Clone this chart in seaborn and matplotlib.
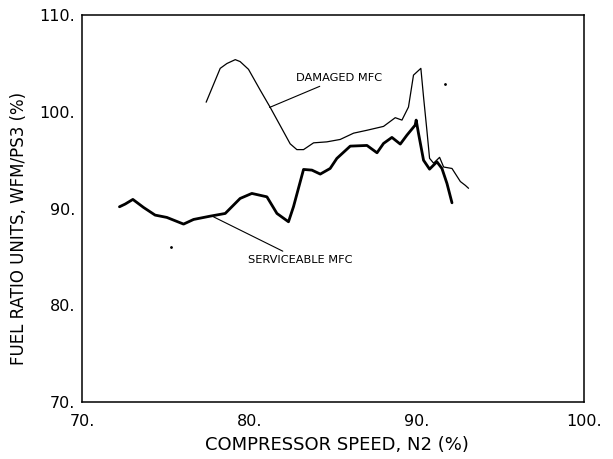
import matplotlib
matplotlib.use("Agg")
import matplotlib.pyplot as plt
import seaborn as sns
import pandas as pd

# Damaged MFC (thin line)
dam_x = [77.41, 78.25, 78.65, 79.15, 79.44, 79.94, 80.64, 81.24, 81.83, 82.43, 82.83, 83.23,
         83.83, 84.62, 85.42, 86.22, 87.02, 88.01, 88.71, 89.11, 89.50, 89.80, 90.24, 90.40,
         90.60, 90.76, 91.00, 91.36, 91.60, 92.10, 92.60, 92.90, 93.09]
dam_y = [101.0, 104.5, 105.0, 105.4, 105.2, 104.4, 102.25, 100.46, 98.6, 96.7, 96.1, 96.1,
         96.8, 96.9, 97.15, 97.8, 98.1, 98.5, 99.4, 99.15, 100.5, 103.8, 104.5, 101.55,
         98.1, 95.2, 94.7, 95.3, 94.3, 94.15, 92.8, 92.4, 92.1]

# Serviceable MFC (thick line)
srv_x = [72.23, 72.57, 73.03, 73.67, 74.36, 75.06, 76.06, 76.66, 77.65, 78.55, 79.44, 80.14,
         81.04, 81.64, 82.33, 82.63, 83.23, 83.73, 84.23, 84.82, 85.22, 86.02, 87.02, 87.62,
         88.01, 88.51, 89.01, 89.41, 89.90, 89.96, 90.10, 90.40, 90.76, 91.20, 91.50, 91.80, 92.10]
srv_y = [90.19, 90.47, 90.95, 90.12, 89.33, 89.09, 88.40, 88.88, 89.22, 89.50, 91.05, 91.57,
         91.22, 89.5, 88.64, 90.2, 94.05, 93.98, 93.57, 94.15, 95.19, 96.46, 96.53, 95.77,
         96.74, 97.36, 96.67, 97.6, 98.63, 99.15, 97.77, 95.0, 94.08, 94.84, 94.15, 92.6, 90.6]

x_ticks = [70, 80, 90, 100]
y_ticks = [70, 80, 90, 100, 110]
x_tick_labels = ["70.", "80.", "90.", "100."]
y_tick_labels = ["70.", "80.", "90.", "100.", "110."]

dam = pd.DataFrame({"x": dam_x, "y": dam_y})
srv = pd.DataFrame({"x": srv_x, "y": srv_y})

sns.set_style("white")
plt.rcParams['font.family'] = ['DejaVu Sans']

fig = plt.figure(figsize=(6.13, 4.59), dpi=100)
ax = fig.add_axes([0.134, 0.124, 0.819, 0.843])

sns.lineplot(data=dam, x="x", y="y", ax=ax, color="black", linewidth=0.9, sort=False)
sns.lineplot(data=srv, x="x", y="y", ax=ax, color="black", linewidth=2.0, sort=False)

# stray specks in the scan
ax.plot([75.3, 91.7], [86.05, 102.9], "k.", markersize=2)

ax.set_xlim(70, 100)
ax.set_ylim(70, 110)
ax.set_xticks(x_ticks)
ax.set_xticklabels(x_tick_labels)
ax.set_yticks(y_ticks)
ax.set_yticklabels(y_tick_labels)
ax.tick_params(direction="in", length=7, width=1, labelsize=11.5, colors="black")
ax.tick_params(axis="x", pad=8.5)
ax.tick_params(axis="y", pad=5)
for s in ax.spines.values():
    s.set_color("black")
    s.set_linewidth(1.1)

ax.set_xlabel("COMPRESSOR SPEED, N2 (%)", fontsize=13, color="black", va="top")
ax.set_ylabel("FUEL RATIO UNITS, WFM/PS3 (%)", fontsize=12, color="black")
ax.xaxis.set_label_coords(0.507, -0.088)
ax.yaxis.set_label_coords(-0.107, 0.45)

ax.annotate("DAMAGED MFC", xy=(81.2, 100.46), xytext=(82.8, 103.5),
            fontsize=8.2, va="center", ha="left", color="black",
            arrowprops=dict(arrowstyle="-", color="black", lw=0.8, shrinkA=0, shrinkB=0))
ax.annotate("SERVICEABLE MFC", xy=(77.85, 89.15), xytext=(79.94, 84.68),
            fontsize=8.2, va="center", ha="left", color="black",
            arrowprops=dict(arrowstyle="-", color="black", lw=0.8, shrinkA=1, shrinkB=0))

fig.savefig("out.png", dpi=100)
